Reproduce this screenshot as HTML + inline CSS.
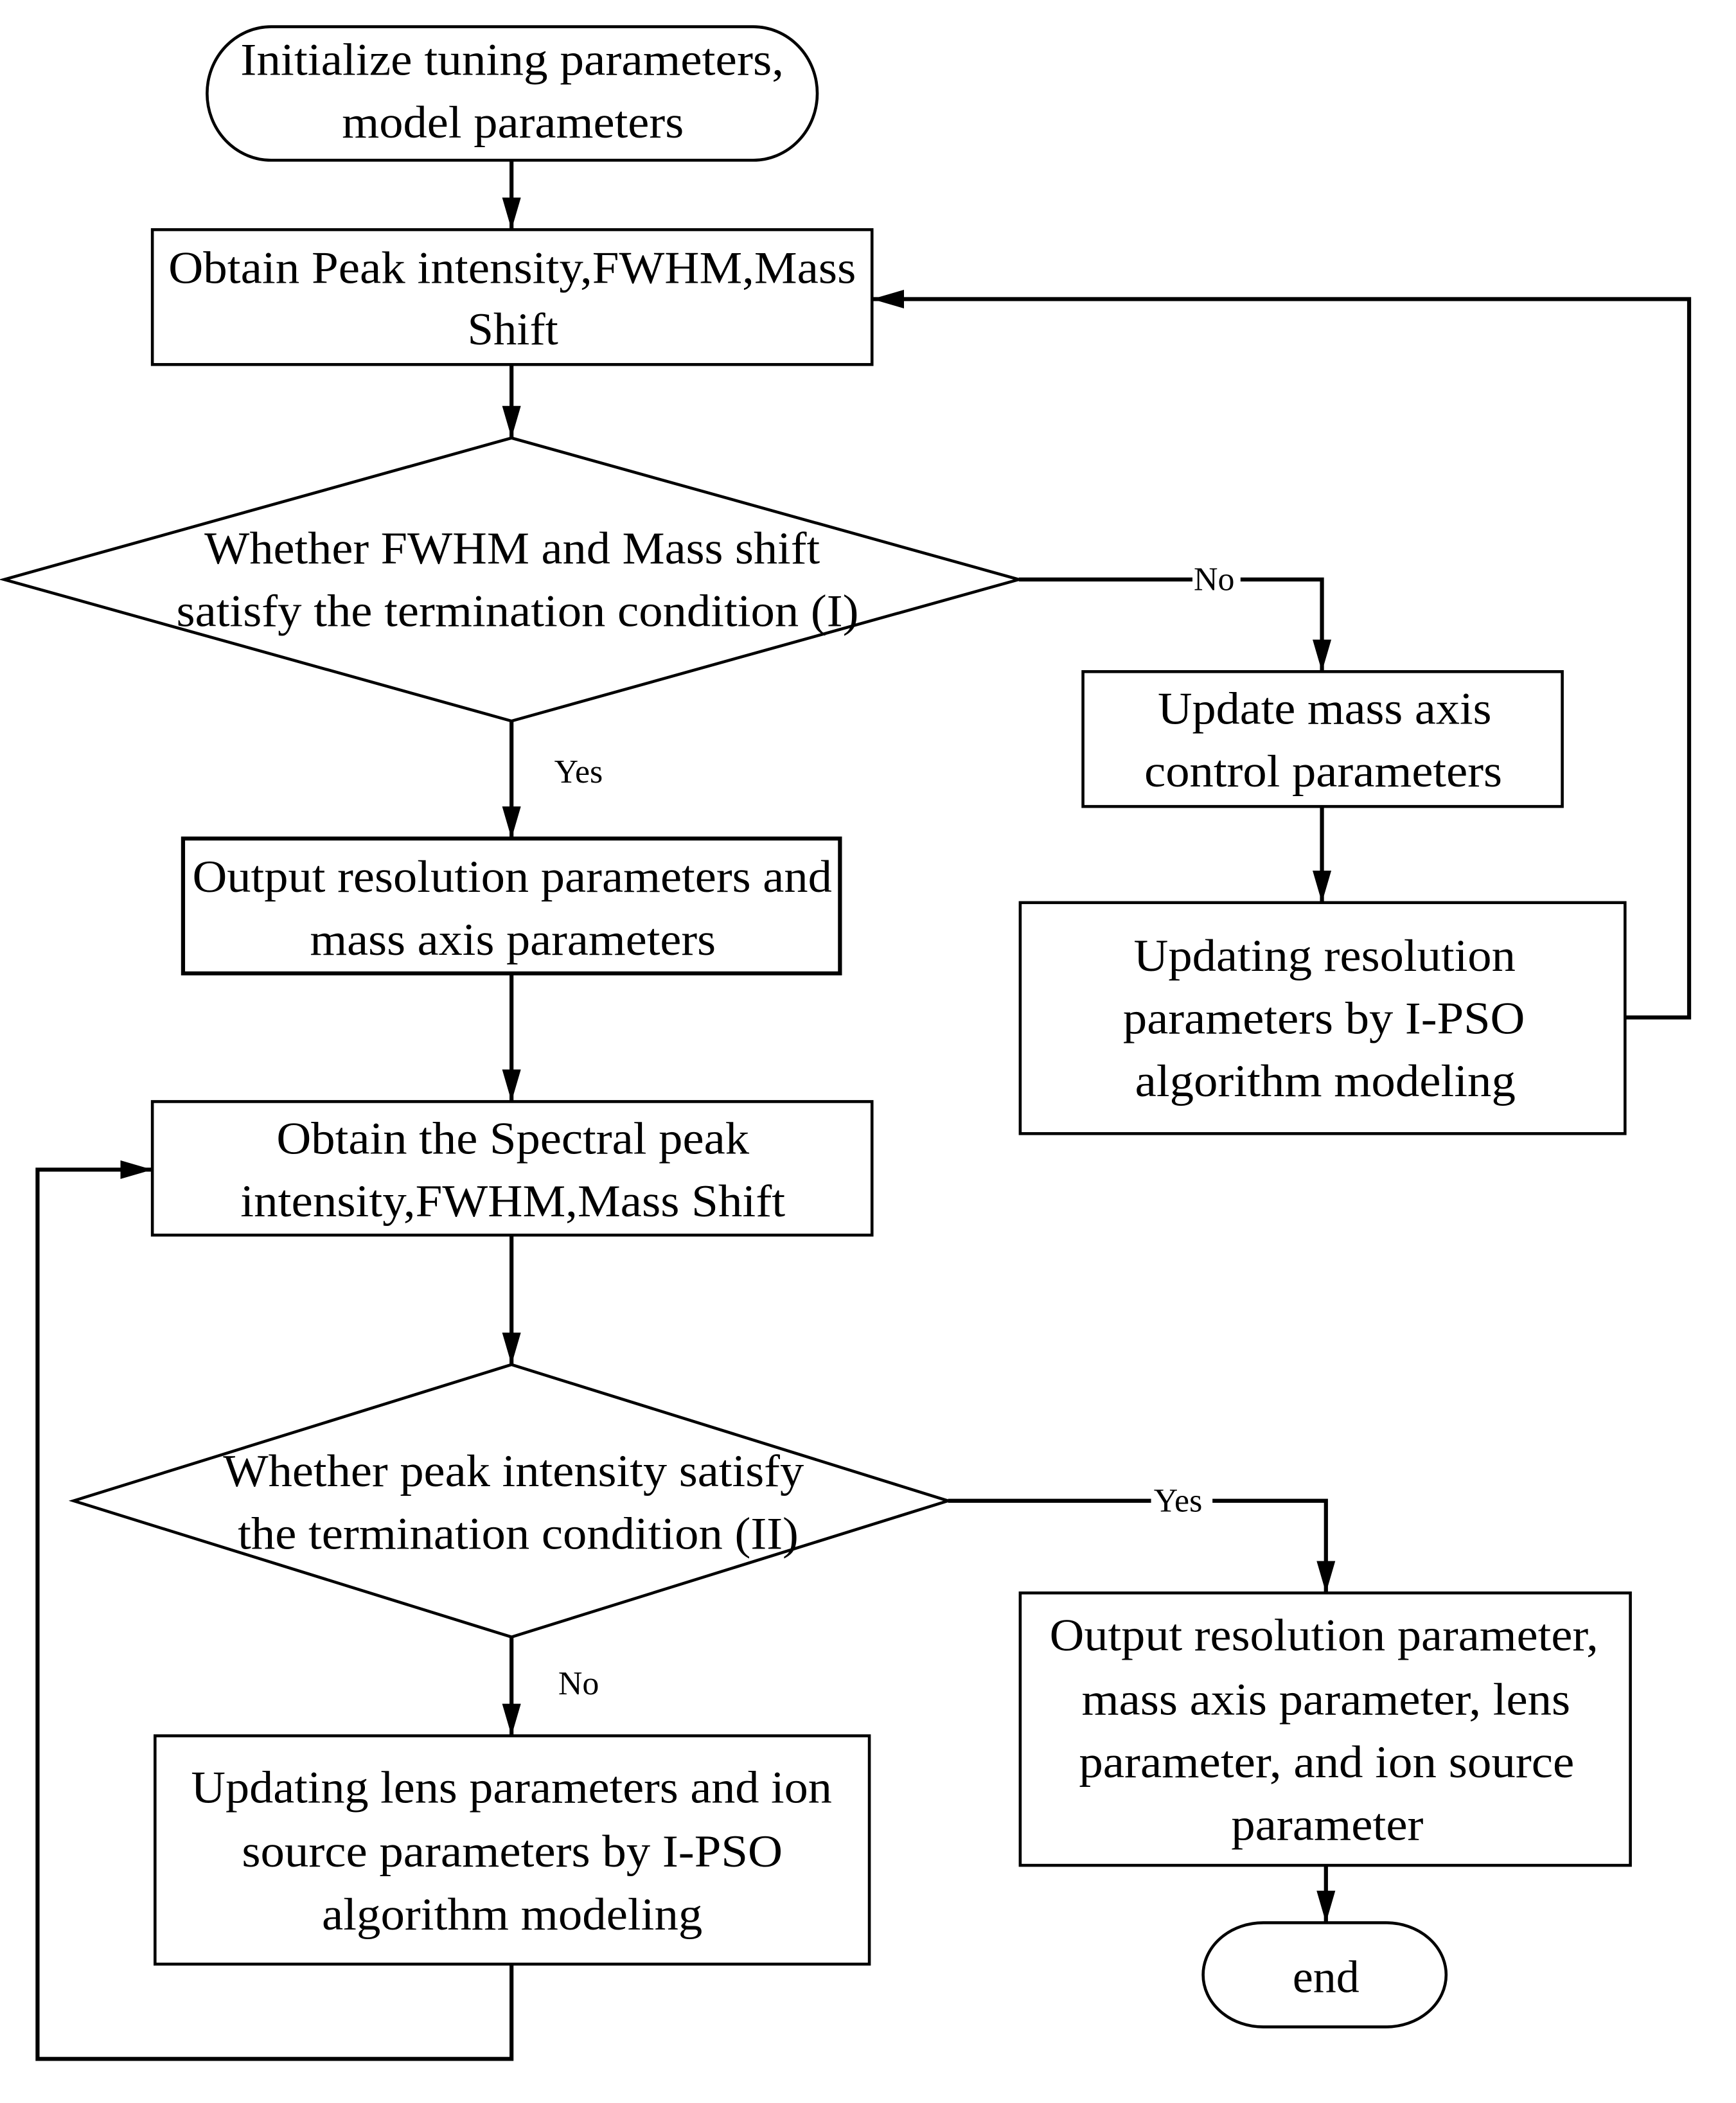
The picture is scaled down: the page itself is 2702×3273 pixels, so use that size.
<!DOCTYPE html>
<html><head><meta charset="utf-8"><style>html,body{margin:0;padding:0;background:#fff}svg{display:block}</style></head>
<body>
<svg width="2702" height="3273" viewBox="0 0 1300 1575" xmlns="http://www.w3.org/2000/svg">
<defs><marker id="a" viewBox="0 0 24 14" refX="24" refY="7" markerWidth="24" markerHeight="14" markerUnits="userSpaceOnUse" orient="auto"><path d="M0,0 L24,7 L0,14 z" fill="#000"/></marker></defs>
<rect width="1300" height="1575" fill="#fff"/>
<g fill="none" stroke="#000" stroke-width="2.2">
<rect x="155" y="20" width="457" height="100" rx="48" ry="50"/>
<rect x="114" y="172" width="539" height="101"/>
<polygon points="383,328 763,434 383,540 3,434"/>
<rect x="811" y="503" width="359" height="101"/>
<rect x="764" y="676" width="453" height="173"/>
<rect x="137" y="628" width="492" height="101" stroke-width="3"/>
<rect x="114" y="825" width="539" height="100"/>
<polygon points="383,1022 710,1124 383,1226 55,1124"/>
<rect x="764" y="1193" width="457" height="204"/>
<rect x="901" y="1440" width="182" height="78" rx="45" ry="39"/>
<rect x="116" y="1300" width="535" height="171"/>
<g stroke-width="3">
<line x1="383" y1="120" x2="383" y2="172" marker-end="url(#a)"/>
<line x1="383" y1="273" x2="383" y2="328" marker-end="url(#a)"/>
<polyline points="763,434 990,434 990,503" marker-end="url(#a)"/>
<line x1="990" y1="604" x2="990" y2="676" marker-end="url(#a)"/>
<polyline points="1217,762 1265,762 1265,224 653,224" marker-end="url(#a)"/>
<line x1="383" y1="540" x2="383" y2="628" marker-end="url(#a)"/>
<line x1="383" y1="729" x2="383" y2="825" marker-end="url(#a)"/>
<line x1="383" y1="925" x2="383" y2="1022" marker-end="url(#a)"/>
<polyline points="710,1124 993,1124 993,1193" marker-end="url(#a)"/>
<line x1="993" y1="1397" x2="993" y2="1440" marker-end="url(#a)"/>
<line x1="383" y1="1226" x2="383" y2="1300" marker-end="url(#a)"/>
<polyline points="383,1471 383,1542 28,1542 28,876 114,876" marker-end="url(#a)"/>
</g>
</g>
<rect x="893" y="422" width="36" height="24" fill="#fff"/>
<rect x="862" y="1112" width="46" height="24" fill="#fff"/>
<g font-family="Liberation Serif, serif" font-size="34" fill="#000">
<text x="180" y="56" textLength="407" lengthAdjust="spacingAndGlyphs">Initialize tuning parameters,</text>
<text x="256" y="103" textLength="256" lengthAdjust="spacingAndGlyphs">model parameters</text>
<text x="126" y="212" textLength="515" lengthAdjust="spacingAndGlyphs">Obtain Peak intensity,FWHM,Mass</text>
<text x="350" y="258" textLength="68" lengthAdjust="spacingAndGlyphs">Shift</text>
<text x="153" y="422" textLength="461" lengthAdjust="spacingAndGlyphs">Whether FWHM and Mass shift</text>
<text x="132" y="469" textLength="511" lengthAdjust="spacingAndGlyphs">satisfy the termination condition (I)</text>
<text x="867" y="542" textLength="250" lengthAdjust="spacingAndGlyphs">Update mass axis</text>
<text x="857" y="589" textLength="268" lengthAdjust="spacingAndGlyphs">control parameters</text>
<text x="849" y="727" textLength="286" lengthAdjust="spacingAndGlyphs">Updating resolution</text>
<text x="841" y="774" textLength="301" lengthAdjust="spacingAndGlyphs">parameters by I-PSO</text>
<text x="850" y="821" textLength="285" lengthAdjust="spacingAndGlyphs">algorithm modeling</text>
<text x="144" y="668" textLength="479" lengthAdjust="spacingAndGlyphs">Output resolution parameters and</text>
<text x="232" y="715" textLength="304" lengthAdjust="spacingAndGlyphs">mass axis parameters</text>
<text x="207" y="864" textLength="354" lengthAdjust="spacingAndGlyphs">Obtain the Spectral peak</text>
<text x="180" y="911" textLength="408" lengthAdjust="spacingAndGlyphs">intensity,FWHM,Mass Shift</text>
<text x="167" y="1113" textLength="435" lengthAdjust="spacingAndGlyphs">Whether peak intensity satisfy</text>
<text x="178" y="1160" textLength="420" lengthAdjust="spacingAndGlyphs">the termination condition (II)</text>
<text x="786" y="1236" textLength="411" lengthAdjust="spacingAndGlyphs">Output resolution parameter,</text>
<text x="810" y="1284" textLength="366" lengthAdjust="spacingAndGlyphs">mass axis parameter, lens</text>
<text x="808" y="1331" textLength="371" lengthAdjust="spacingAndGlyphs">parameter, and ion source</text>
<text x="922" y="1378" textLength="144" lengthAdjust="spacingAndGlyphs">parameter</text>
<text x="968" y="1492" textLength="50" lengthAdjust="spacingAndGlyphs">end</text>
<text x="143" y="1350" textLength="480" lengthAdjust="spacingAndGlyphs">Updating lens parameters and ion</text>
<text x="181" y="1398" textLength="405" lengthAdjust="spacingAndGlyphs">source parameters by I-PSO</text>
<text x="241" y="1445" textLength="285" lengthAdjust="spacingAndGlyphs">algorithm modeling</text>
</g>
<g font-family="Liberation Serif, serif" font-size="25" fill="#000">
<text x="894" y="442">No</text>
<text x="415" y="586">Yes</text>
<text x="864" y="1132">Yes</text>
<text x="418" y="1269">No</text>
</g>
</svg>
</body></html>
